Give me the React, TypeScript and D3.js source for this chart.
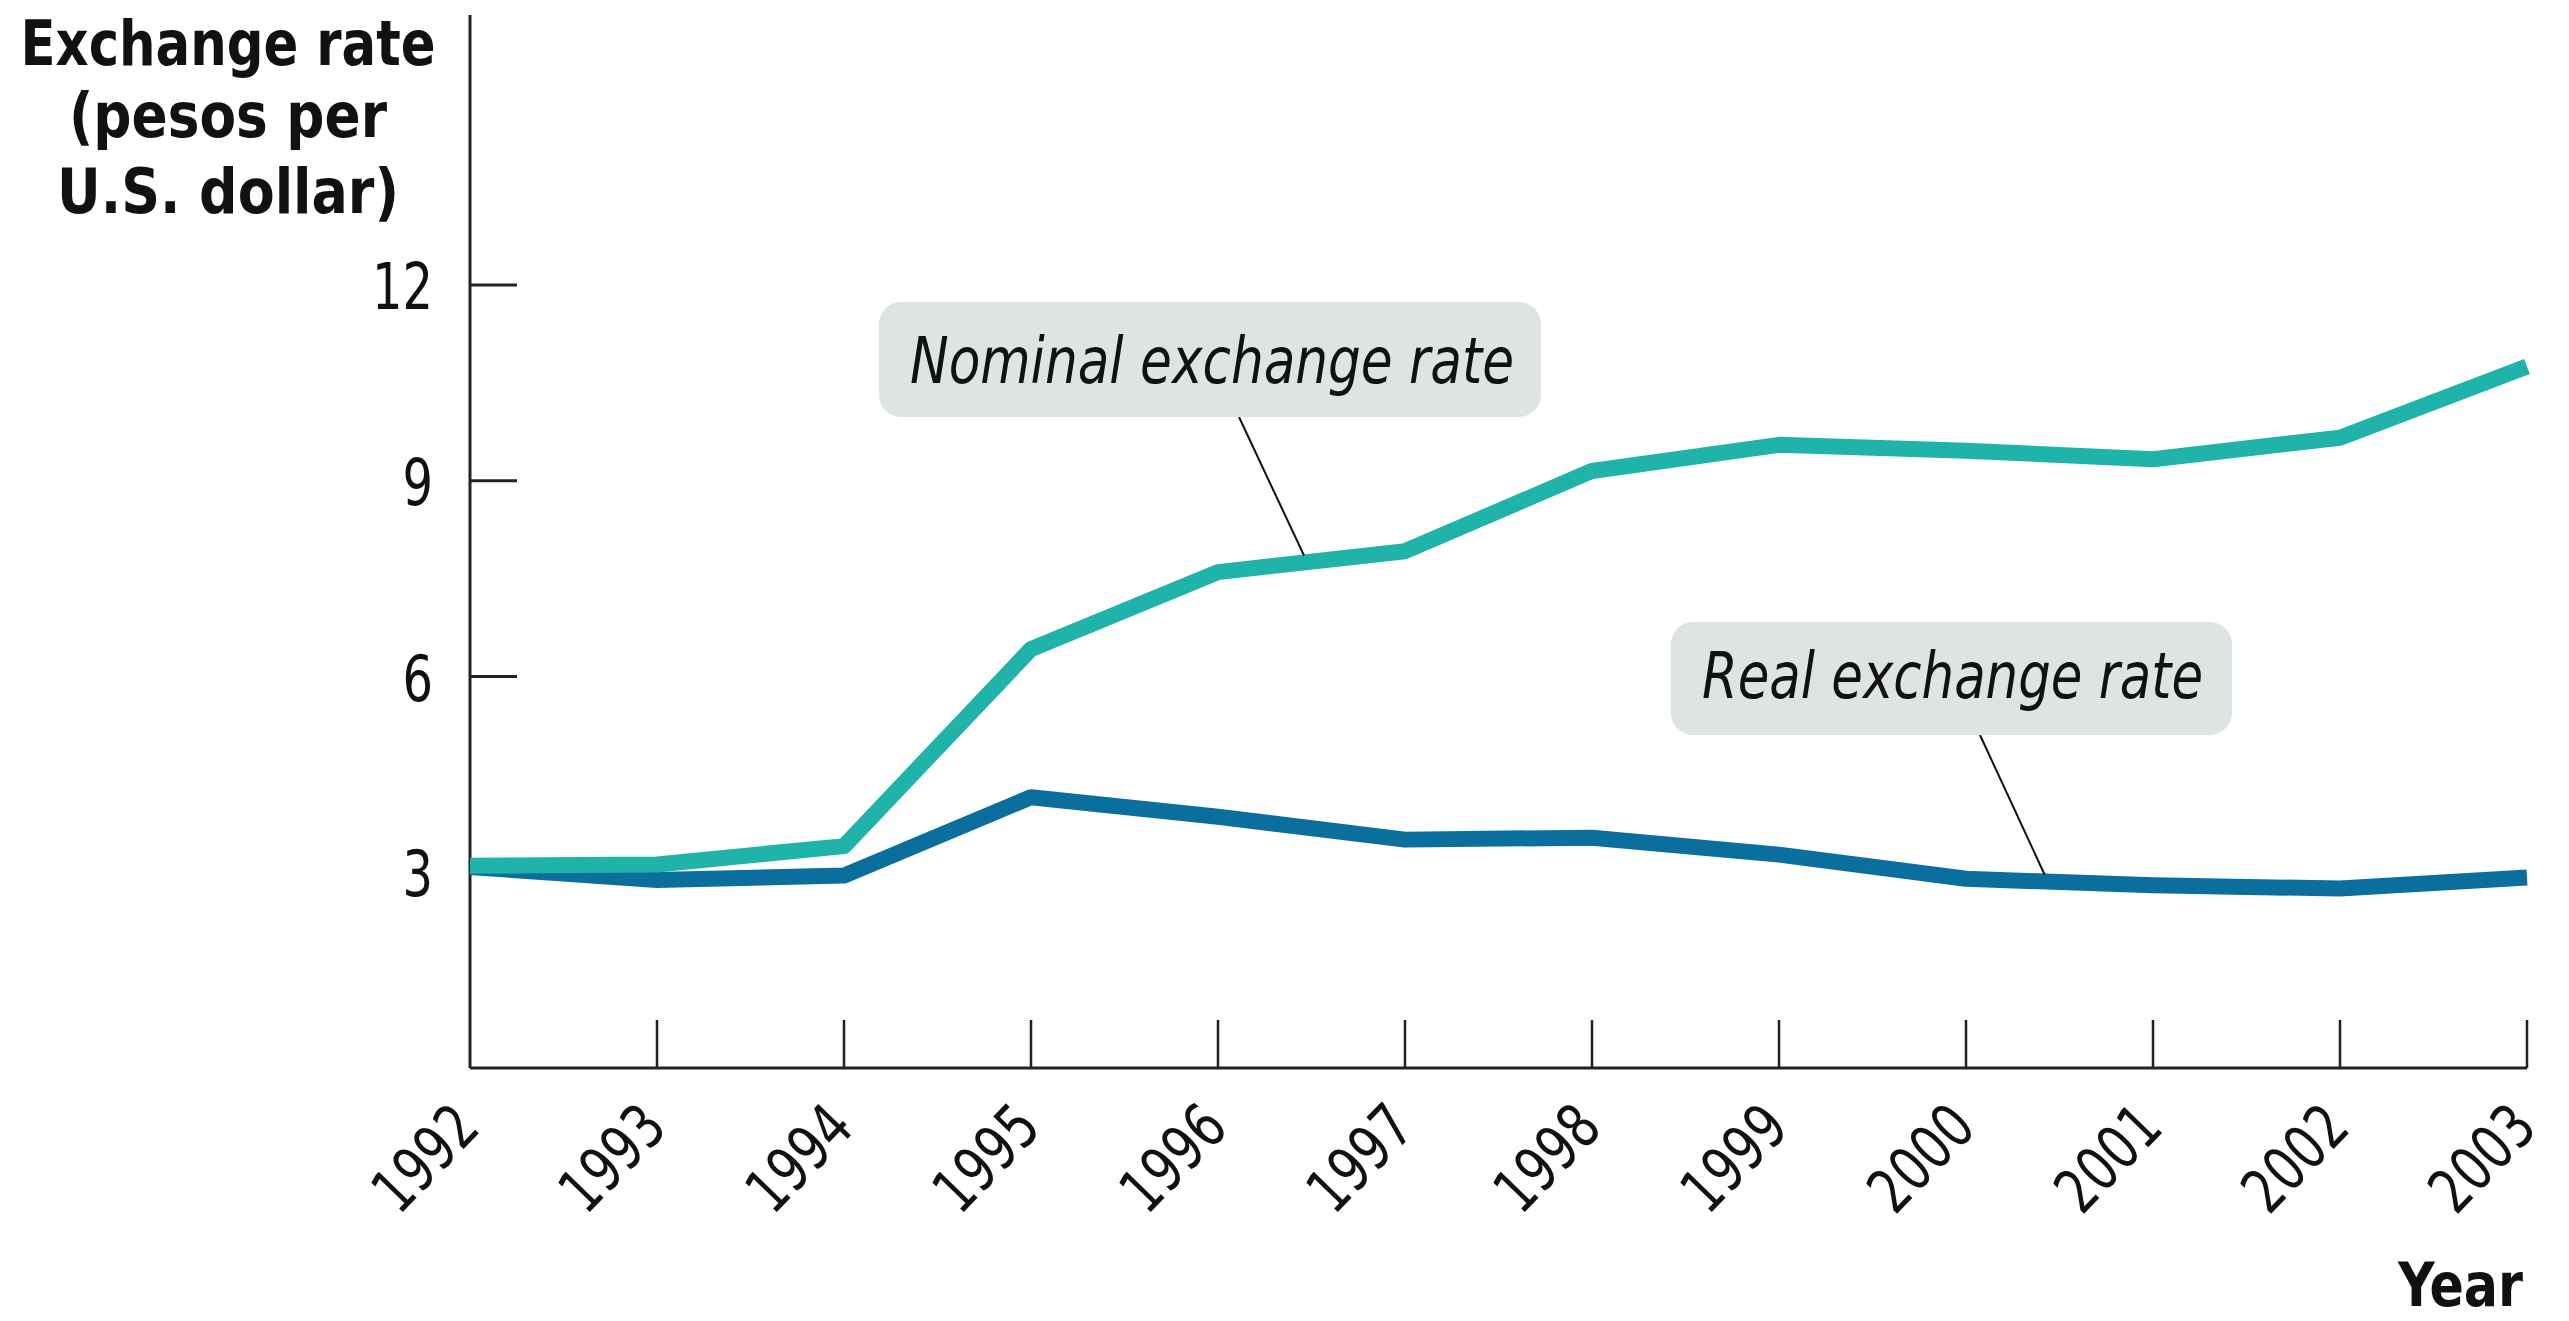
import React from "react";
import * as d3 from "d3";

const years = [1992, 1993, 1994, 1995, 1996, 1997, 1998, 1999, 2000, 2001, 2002, 2003];
const nominalRate = [3.1, 3.12, 3.4, 6.42, 7.6, 7.92, 9.15, 9.55, 9.46, 9.33, 9.66, 10.75];
const realRate = [3.08, 2.88, 2.95, 4.15, 3.85, 3.5, 3.53, 3.27, 2.9, 2.8, 2.75, 2.92];
const yTickValues = [3, 6, 9, 12];
const titleLines = ["Exchange rate", "(pesos per", "U.S. dollar)"];

const W = 2569;
const H = 1321;
const FONT = "'Liberation Sans Narrow', 'DejaVu Sans Condensed', 'Open Sans', sans-serif";

const x = d3.scaleLinear().domain([1992, 2003]).range([470, 2527]);
const y = d3.scaleLinear().domain([0, 12]).range([1068, 285]);

function interp(series: number[], yr: number) {
  const i = Math.min(Math.floor(yr - 1992), series.length - 2);
  const t = yr - 1992 - i;
  return series[i] * (1 - t) + series[i + 1] * t;
}

export default function App() {
  const line = d3
    .line<number>()
    .x((_, i) => x(years[i]))
    .y((d) => y(d))
    .curve(d3.curveLinear);

  const nomAnchorYear = 1996.46;
  const realAnchorYear = 2000.42;

  return (
    <div style={{ position: "absolute", left: 0, top: 0 }}>
      <svg width={W} height={H} viewBox={`0 0 ${W} ${H}`} style={{ display: "block", background: "#fff" }}>
        {/* Title */}
        {titleLines.map((t, i) => (
          <text
            key={t}
            x={228}
            y={[65, 137, 213][i]}
            textAnchor="middle"
            fontFamily={FONT}
            fontWeight="bold"
            fontSize={62}
            fill="#111"
            textLength={[415, 318, 342][i]}
            lengthAdjust="spacingAndGlyphs"
          >
            {t}
          </text>
        ))}

        {/* Y axis */}
        <line x1={x(1992)} x2={x(1992)} y1={15} y2={y(0)} stroke="#222" strokeWidth={3} />
        {yTickValues.map((v) => (
          <g key={v}>
            <line x1={x(1992)} x2={x(1992) + 47} y1={y(v)} y2={y(v)} stroke="#222" strokeWidth={3} />
            <text
              x={433}
              y={y(v) + 24}
              textAnchor="end"
              fontFamily={FONT}
              fontSize={64}
              fill="#111"
              textLength={String(v).length * 30.5}
              lengthAdjust="spacingAndGlyphs"
            >
              {v}
            </text>
          </g>
        ))}

        {/* X axis */}
        <line x1={x(1992)} x2={x(2003)} y1={y(0)} y2={y(0)} stroke="#222" strokeWidth={3} />
        {years.map((yr) => (
          <g key={yr}>
            {yr > 1992 && (
              <line x1={x(yr)} x2={x(yr)} y1={y(0)} y2={y(0) - 48} stroke="#222" strokeWidth={2.5} />
            )}
            <text
              transform={`translate(${x(yr) + 12},${y(0) + 62}) rotate(-46)`}
              textAnchor="end"
              fontFamily={FONT}
              fontSize={62}
              fill="#111"
              textLength={120}
              lengthAdjust="spacingAndGlyphs"
            >
              {yr}
            </text>
          </g>
        ))}
        <text
          x={2523}
          y={1306}
          textAnchor="end"
          fontFamily={FONT}
          fontWeight="bold"
          fontSize={60}
          fill="#111"
          textLength={125}
          lengthAdjust="spacingAndGlyphs"
        >
          Year
        </text>

        {/* Lines */}
        <path d={line(realRate) || ""} fill="none" stroke="#0a6f9c" strokeWidth={16} strokeLinejoin="round" />
        <path d={line(nominalRate) || ""} fill="none" stroke="#20b3a9" strokeWidth={16} strokeLinejoin="round" />

        {/* Nominal annotation */}
        <line
          x1={1239}
          y1={417}
          x2={x(nomAnchorYear)}
          y2={y(interp(nominalRate, nomAnchorYear)) - 7}
          stroke="#111"
          strokeWidth={2}
        />
        <rect x={879} y={302} width={662} height={115} rx={22} fill="#dee4e2" />
        <text
          x={910}
          y={383}
          fontFamily={FONT}
          fontStyle="italic"
          fontSize={64}
          fill="#111"
          textLength={604}
          lengthAdjust="spacingAndGlyphs"
        >
          Nominal exchange rate
        </text>

        {/* Real annotation */}
        <line
          x1={1980}
          y1={735}
          x2={x(realAnchorYear)}
          y2={y(interp(realRate, realAnchorYear)) - 7}
          stroke="#111"
          strokeWidth={2}
        />
        <rect x={1671} y={622} width={561} height={113} rx={22} fill="#dee4e2" />
        <text
          x={1702}
          y={698}
          fontFamily={FONT}
          fontStyle="italic"
          fontSize={64}
          fill="#111"
          textLength={501}
          lengthAdjust="spacingAndGlyphs"
        >
          Real exchange rate
        </text>
      </svg>
    </div>
  );
}
